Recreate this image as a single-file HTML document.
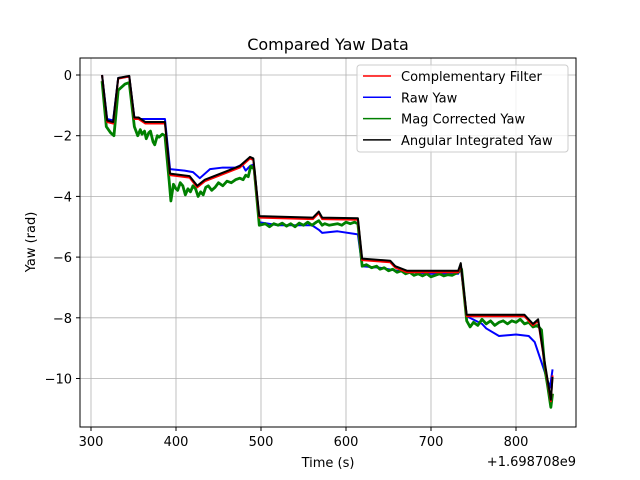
<!DOCTYPE html>
<html><head><meta charset="utf-8"><style>
body{margin:0;background:#fff;}
svg{display:block;font-family:"DejaVu Sans","Liberation Sans",sans-serif;}
</style></head><body>
<svg id="chart" width="640" height="480">
<rect width="640" height="480" fill="#fff"/>
<g id="grid"></g>
<g id="series"></g>
<rect x="80" y="58" width="496" height="369" fill="none" stroke="#000" stroke-width="1"/>
<g id="ticks"></g>
<text x="328" y="50" font-size="16" text-anchor="middle">Compared Yaw Data</text>
<text x="328" y="467" font-size="13" text-anchor="middle">Time (s)</text>
<text x="576" y="466" font-size="13" text-anchor="end">+1.698708e9</text>
<text transform="translate(35,242) rotate(-90)" font-size="13" text-anchor="middle">Yaw (rad)</text>
<g id="legend">
<rect x="357" y="65" width="211" height="87" fill="#fff" fill-opacity="0.8" stroke="#ccc" rx="3"/>
</g>
</svg>
<script>
const xTicks=[300,400,500,600,700,800];
const yTicks=[0,-2,-4,-6,-8,-10];
const seriesNames=["Complementary Filter","Raw Yaw","Mag Corrected Yaw","Angular Integrated Yaw"];
const seriesColors=["#ff0000","#0000ff","#008000","#000000"];
const angT=[313,319,326,332,345,351,356,364,387,393,416,425,434,475,487,491,498,561,568,572,614,619,652,658,672,732,735,742,810,820,826,834,841,843];
const angV=[0,-1.5,-1.55,-0.1,-0.03,-1.4,-1.4,-1.55,-1.55,-3.25,-3.33,-3.65,-3.45,-3.0,-2.7,-2.75,-4.65,-4.7,-4.5,-4.7,-4.72,-6.05,-6.12,-6.3,-6.45,-6.45,-6.2,-7.9,-7.9,-8.2,-8.05,-9.5,-10.7,-9.95];
const compT=angT;
const compV=[0,-1.55,-1.6,-0.12,-0.05,-1.45,-1.45,-1.6,-1.6,-3.3,-3.38,-3.7,-3.5,-3.05,-2.75,-2.8,-4.7,-4.75,-4.55,-4.75,-4.77,-6.1,-6.17,-6.35,-6.5,-6.5,-6.25,-7.95,-7.95,-8.25,-8.1,-9.55,-10.75,-9.9];
const rawT=[313,319,326,332,345,351,356,364,387,393,410,420,428,440,455,470,478,482,487,491,498,520,560,568,572,590,614,619,640,660,700,732,735,742,760,765,780,800,815,822,834,840,843];
const rawV=[0,-1.45,-1.5,-0.1,-0.05,-1.4,-1.45,-1.45,-1.45,-3.1,-3.15,-3.2,-3.4,-3.1,-3.05,-3.05,-2.95,-3.15,-3.0,-2.95,-4.85,-4.95,-4.95,-5.1,-5.2,-5.15,-5.25,-6.3,-6.35,-6.45,-6.55,-6.55,-6.35,-7.95,-8.2,-8.35,-8.6,-8.55,-8.6,-8.8,-9.8,-10.3,-9.7];
const magT=[313,318,323,327,332,340,345,351,355,358,360,363,365,368,370,373,375,378,380,384,387,392,394,397,400,402,405,408,411,414,417,420,423,426,429,432,435,438,442,446,450,455,460,465,470,475,479,482,485,488,492,498,505,510,515,520,525,530,535,540,545,550,555,560,565,568,572,575,580,590,595,600,605,610,614,619,624,630,636,640,645,650,655,660,665,670,675,680,685,690,695,700,705,710,715,720,725,732,736,742,746,750,755,760,765,770,775,780,785,790,795,800,805,810,815,820,825,830,834,837,841,843];
const magV=[-0.2,-1.7,-1.9,-2.0,-0.5,-0.3,-0.25,-1.7,-2.0,-1.8,-1.95,-1.85,-2.1,-1.9,-1.85,-2.2,-2.3,-2.0,-2.05,-1.95,-2.0,-3.5,-4.15,-3.6,-3.75,-3.8,-3.55,-3.65,-3.95,-3.75,-3.85,-3.65,-3.75,-4.0,-3.85,-3.95,-3.7,-3.65,-3.8,-3.7,-3.55,-3.65,-3.5,-3.55,-3.45,-3.4,-3.45,-3.3,-3.35,-3.0,-3.1,-4.95,-4.9,-5.0,-4.9,-4.95,-4.88,-4.98,-4.9,-5.0,-4.88,-4.95,-4.85,-4.95,-4.85,-4.8,-4.95,-4.9,-4.95,-4.9,-4.95,-4.85,-4.9,-4.85,-4.9,-6.3,-6.25,-6.35,-6.3,-6.4,-6.35,-6.45,-6.4,-6.5,-6.45,-6.55,-6.5,-6.6,-6.55,-6.62,-6.55,-6.65,-6.6,-6.55,-6.62,-6.58,-6.6,-6.5,-6.4,-8.1,-8.3,-8.15,-8.25,-8.05,-8.2,-8.1,-8.25,-8.15,-8.1,-8.2,-8.1,-8.15,-8.05,-8.2,-8.15,-8.3,-8.25,-8.4,-9.7,-10.2,-10.95,-10.5];
const sx=t=>91+(t-300)*0.85;
const sy=v=>75-v*30.35;
const NS="http://www.w3.org/2000/svg";
const grid=document.getElementById('grid'),ticks=document.getElementById('ticks'),ser=document.getElementById('series'),leg=document.getElementById('legend');
function mk(tag,attrs,parent){const e=document.createElementNS(NS,tag);for(const k in attrs)e.setAttribute(k,attrs[k]);parent.appendChild(e);return e;}
xTicks.forEach(t=>{const x=sx(t);
 const g=mk('line',{x1:x,x2:x,y1:58,y2:427,stroke:'#b0b0b0','stroke-width':0.8},grid);
 
 
 const tk=mk('line',{x1:x,x2:x,y1:427,y2:431,stroke:'#000'},ticks);
 
 
 const tx=mk('text',{x:x,y:446,'font-size':13,'text-anchor':'middle'},ticks);tx.textContent=t;
 
 
});
yTicks.forEach(v=>{const y=sy(v);
 const g=mk('line',{x1:80,x2:576,y1:y,y2:y,stroke:'#b0b0b0','stroke-width':0.8},grid);
 
 
 const tk=mk('line',{x1:76,x2:80,y1:y,y2:y,stroke:'#000'},ticks);
 
 
 const tx=mk('text',{x:72,y:y+5,'font-size':13,'text-anchor':'end'},ticks);tx.textContent=(v<0?'\u2212'+(-v):v);
 
 
});
const data=[[compT,compV],[rawT,rawV],[magT,magV],[angT,angV]];
const order=[1,2,0,3];
const widths=[2,2,2.8,2];
order.forEach(i=>{const [T,V]=data[i];
 const p=mk('polyline',{points:T.map((t,j)=>sx(t)+','+sy(V[j])).join(' '),fill:'none',stroke:seriesColors[i],'stroke-width':widths[i],'stroke-linejoin':'round'},ser);
 
 
});
seriesNames.forEach((n,i)=>{const y=76+i*21.3;
 const l=mk('line',{x1:363,x2:391,y1:y,y2:y,stroke:seriesColors[i],'stroke-width':1.5},leg);
 
 
 const t=mk('text',{x:401,y:y+5,'font-size':13},leg);t.textContent=n;
 
 
});
</script>
</body></html>
